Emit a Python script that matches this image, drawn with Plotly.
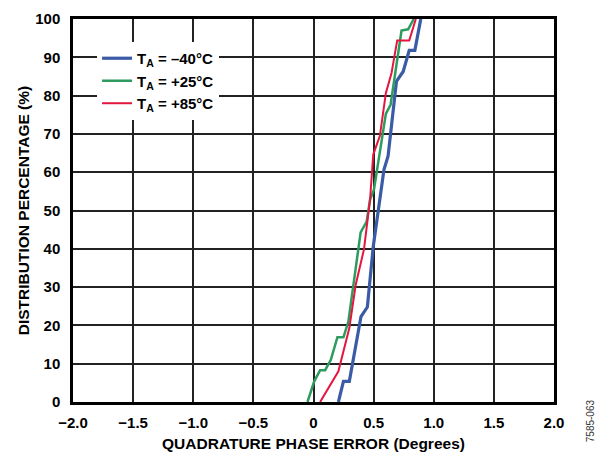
import plotly.graph_objects as go

# -40°C
x_m40 = [0.207, 0.249, 0.298, 0.395, 0.448, 0.497, 0.586, 0.62, 0.69, 0.746, 0.796, 0.843, 0.892]
y_m40 = [0, 5.4, 5.4, 22.3, 24.8, 40.6, 60.7, 64.2, 83.7, 86.3, 91.8, 91.8, 100]
# +25°C
x_p25 = [-0.05, 0.006, 0.055, 0.097, 0.144, 0.199, 0.249, 0.29, 0.392, 0.442, 0.47, 0.503, 0.602, 0.641, 0.732, 0.787, 0.834]
y_p25 = [0, 5.4, 8.3, 8.3, 11.0, 16.9, 16.9, 21.0, 44.3, 47.1, 52.8, 55.5, 75.3, 77.6, 97.0, 97.3, 100]
# +85°C
x_p85 = [0.055, 0.207, 0.298, 0.351, 0.42, 0.47, 0.497, 0.552, 0.602, 0.649, 0.696, 0.796, 0.851]
y_p85 = [0, 8.0, 19.3, 30.6, 39.9, 52.8, 64.6, 69.5, 80.7, 85.9, 94.4, 94.4, 100]

xtick_vals = [-2.0, -1.5, -1.0, -0.5, 0, 0.5, 1.0, 1.5, 2.0]
xtick_text = ["\u22122.0", "\u22121.5", "\u22121.0", "\u22120.5", "0", "0.5", "1.0", "1.5", "2.0"]
ytick_vals = [0, 10, 20, 30, 40, 50, 60, 70, 80, 90, 100]

FONT = "Liberation Sans, Arial, sans-serif"
SUB = "<sub>A</sub>"

fig = go.Figure()
fig.add_trace(go.Scatter(x=x_m40, y=y_m40, mode="lines", name="<b>T" + SUB + " = \u201340°C</b>",
                         line=dict(color="#3A5BA6", width=3.2)))
fig.add_trace(go.Scatter(x=x_p25, y=y_p25, mode="lines", name="<b>T" + SUB + " = +25°C</b>",
                         line=dict(color="#2E9B5E", width=2.5)))
fig.add_trace(go.Scatter(x=x_p85, y=y_p85, mode="lines", name="<b>T" + SUB + " = +85°C</b>",
                         line=dict(color="#E3163F", width=2)))

fig.update_layout(
    width=597, height=452,
    margin=dict(l=73, r=43, t=19, b=50, autoexpand=False),
    paper_bgcolor="white", plot_bgcolor="white",
    font=dict(family=FONT, color="black", size=15),
    legend=dict(x=0.05, y=0.94, xanchor="left", yanchor="top",
                bgcolor="white", font=dict(size=15, family=FONT),
                itemwidth=30, tracegroupgap=0),
    showlegend=True,
)
fig.update_xaxes(range=[-2, 2], tickvals=xtick_vals, ticktext=xtick_text,
                 showgrid=True, gridcolor="#222", gridwidth=1.5, zeroline=False,
                 showline=True, linecolor="black", linewidth=2.5, mirror=True,
                 ticks="", automargin=False, ticklabelstandoff=5,
                 tickfont=dict(size=15, weight="bold"),
                 title=dict(text="<b>QUADRATURE PHASE ERROR (Degrees)</b>", font=dict(size=15.5), standoff=14))
fig.update_yaxes(range=[0, 100], tickvals=ytick_vals,
                 showgrid=True, gridcolor="#222", gridwidth=1.5, zeroline=False,
                 showline=True, linecolor="black", linewidth=2.5, mirror=True,
                 ticks="", automargin=False, ticklabelstandoff=7,
                 tickfont=dict(size=15, weight="bold"),
                 title=dict(text="<b>DISTRIBUTION PERCENTAGE (%)</b>", font=dict(size=15.5), standoff=2))
fig.add_annotation(text="7585-063", xref="paper", yref="paper", x=1.075, y=-0.05,
                   xanchor="center", yanchor="middle", textangle=-90, showarrow=False,
                   font=dict(size=10, color="#333"))

fig.write_html("out.html", config={"displayModeBar": False},
               post_script="document.body.style.margin='0';document.body.style.overflow='hidden';")
